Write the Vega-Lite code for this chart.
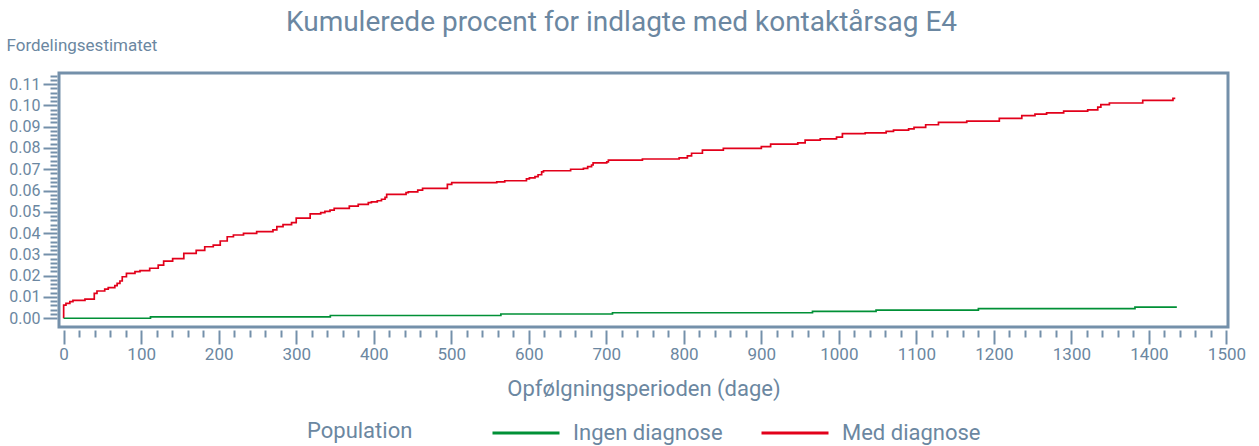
{
  "$schema": "https://vega.github.io/schema/vega-lite/v6.json",
  "autosize": "none",
  "width": 1169,
  "height": 254,
  "padding": {"left": 59, "top": 73, "right": 31, "bottom": 119},
  "background": "white",
  "config": {
    "font": "Roboto, sans-serif",
    "view": {"stroke": "#7490aa", "strokeWidth": 3},
    "axis": {"domain": false, "grid": false, "tickColor": "#7490aa", "tickWidth": 2, "labelColor": "#6b87a1", "titleColor": "#6b87a1", "titleFontWeight": "normal", "labelOverlap": false}
  },
  "title": {
    "text": "Kumulerede procent for indlagte med kontaktårsag E4",
    "fontSize": 28,
    "fontWeight": "normal",
    "color": "#6b87a1",
    "anchor": "middle",
    "frame": "group",
    "dx": -22,
    "dy": 11,
    "offset": 10
  },
  "data": {
    "values": [
      {"grp": "Med diagnose", "day": 0, "v": 0},
      {"grp": "Med diagnose", "day": 0, "v": 0.0062},
      {"grp": "Med diagnose", "day": 3, "v": 0.0070},
      {"grp": "Med diagnose", "day": 8, "v": 0.0078},
      {"grp": "Med diagnose", "day": 12, "v": 0.0084},
      {"grp": "Med diagnose", "day": 27.5, "v": 0.0090},
      {"grp": "Med diagnose", "day": 39.5, "v": 0.0117},
      {"grp": "Med diagnose", "day": 43, "v": 0.0128},
      {"grp": "Med diagnose", "day": 53, "v": 0.0137},
      {"grp": "Med diagnose", "day": 57.5, "v": 0.0144},
      {"grp": "Med diagnose", "day": 66, "v": 0.0153},
      {"grp": "Med diagnose", "day": 69, "v": 0.0164},
      {"grp": "Med diagnose", "day": 72.6, "v": 0.0175},
      {"grp": "Med diagnose", "day": 75.6, "v": 0.0195},
      {"grp": "Med diagnose", "day": 81, "v": 0.0211},
      {"grp": "Med diagnose", "day": 92, "v": 0.0219},
      {"grp": "Med diagnose", "day": 98.5, "v": 0.0224},
      {"grp": "Med diagnose", "day": 111, "v": 0.0235},
      {"grp": "Med diagnose", "day": 122, "v": 0.0250},
      {"grp": "Med diagnose", "day": 129, "v": 0.0268},
      {"grp": "Med diagnose", "day": 140.6, "v": 0.0280},
      {"grp": "Med diagnose", "day": 155, "v": 0.0305},
      {"grp": "Med diagnose", "day": 171, "v": 0.0319},
      {"grp": "Med diagnose", "day": 182, "v": 0.0336},
      {"grp": "Med diagnose", "day": 193, "v": 0.0344},
      {"grp": "Med diagnose", "day": 202, "v": 0.0363},
      {"grp": "Med diagnose", "day": 211, "v": 0.0383},
      {"grp": "Med diagnose", "day": 219, "v": 0.0391},
      {"grp": "Med diagnose", "day": 232, "v": 0.0399},
      {"grp": "Med diagnose", "day": 249, "v": 0.0407},
      {"grp": "Med diagnose", "day": 270, "v": 0.0415},
      {"grp": "Med diagnose", "day": 275, "v": 0.0430},
      {"grp": "Med diagnose", "day": 283, "v": 0.0440},
      {"grp": "Med diagnose", "day": 294, "v": 0.0449},
      {"grp": "Med diagnose", "day": 300, "v": 0.0470},
      {"grp": "Med diagnose", "day": 318, "v": 0.0490},
      {"grp": "Med diagnose", "day": 331.6, "v": 0.0496},
      {"grp": "Med diagnose", "day": 337, "v": 0.0502},
      {"grp": "Med diagnose", "day": 343.6, "v": 0.0508},
      {"grp": "Med diagnose", "day": 349, "v": 0.0516},
      {"grp": "Med diagnose", "day": 368.5, "v": 0.0527},
      {"grp": "Med diagnose", "day": 380, "v": 0.0535},
      {"grp": "Med diagnose", "day": 393, "v": 0.0543},
      {"grp": "Med diagnose", "day": 397, "v": 0.0547},
      {"grp": "Med diagnose", "day": 404.6, "v": 0.0552},
      {"grp": "Med diagnose", "day": 410, "v": 0.0559},
      {"grp": "Med diagnose", "day": 414.6, "v": 0.0568},
      {"grp": "Med diagnose", "day": 416.7, "v": 0.0582},
      {"grp": "Med diagnose", "day": 441.7, "v": 0.0590},
      {"grp": "Med diagnose", "day": 444.6, "v": 0.0594},
      {"grp": "Med diagnose", "day": 456.8, "v": 0.0602},
      {"grp": "Med diagnose", "day": 463, "v": 0.0610},
      {"grp": "Med diagnose", "day": 495, "v": 0.0629},
      {"grp": "Med diagnose", "day": 500.6, "v": 0.0637},
      {"grp": "Med diagnose", "day": 558.7, "v": 0.0641},
      {"grp": "Med diagnose", "day": 569, "v": 0.0646},
      {"grp": "Med diagnose", "day": 597, "v": 0.0655},
      {"grp": "Med diagnose", "day": 600.8, "v": 0.0659},
      {"grp": "Med diagnose", "day": 608, "v": 0.0665},
      {"grp": "Med diagnose", "day": 612, "v": 0.0674},
      {"grp": "Med diagnose", "day": 616.6, "v": 0.0688},
      {"grp": "Med diagnose", "day": 619, "v": 0.0693},
      {"grp": "Med diagnose", "day": 654, "v": 0.0700},
      {"grp": "Med diagnose", "day": 670.5, "v": 0.0704},
      {"grp": "Med diagnose", "day": 676, "v": 0.0712},
      {"grp": "Med diagnose", "day": 681, "v": 0.0720},
      {"grp": "Med diagnose", "day": 683, "v": 0.0730},
      {"grp": "Med diagnose", "day": 700.6, "v": 0.0735},
      {"grp": "Med diagnose", "day": 702.7, "v": 0.0743},
      {"grp": "Med diagnose", "day": 746.6, "v": 0.0748},
      {"grp": "Med diagnose", "day": 794, "v": 0.0753},
      {"grp": "Med diagnose", "day": 804.6, "v": 0.0763},
      {"grp": "Med diagnose", "day": 810, "v": 0.0775},
      {"grp": "Med diagnose", "day": 824, "v": 0.0790},
      {"grp": "Med diagnose", "day": 851, "v": 0.0798},
      {"grp": "Med diagnose", "day": 900, "v": 0.0806},
      {"grp": "Med diagnose", "day": 912, "v": 0.0818},
      {"grp": "Med diagnose", "day": 947, "v": 0.0824},
      {"grp": "Med diagnose", "day": 956.5, "v": 0.0837},
      {"grp": "Med diagnose", "day": 976, "v": 0.0843},
      {"grp": "Med diagnose", "day": 997, "v": 0.0851},
      {"grp": "Med diagnose", "day": 1004.6, "v": 0.0867},
      {"grp": "Med diagnose", "day": 1034, "v": 0.0871},
      {"grp": "Med diagnose", "day": 1061, "v": 0.0878},
      {"grp": "Med diagnose", "day": 1070.5, "v": 0.0884},
      {"grp": "Med diagnose", "day": 1090, "v": 0.0890},
      {"grp": "Med diagnose", "day": 1097, "v": 0.0897},
      {"grp": "Med diagnose", "day": 1112, "v": 0.0909},
      {"grp": "Med diagnose", "day": 1128.5, "v": 0.0920},
      {"grp": "Med diagnose", "day": 1165, "v": 0.0926},
      {"grp": "Med diagnose", "day": 1207, "v": 0.0939},
      {"grp": "Med diagnose", "day": 1236, "v": 0.0952},
      {"grp": "Med diagnose", "day": 1253, "v": 0.0959},
      {"grp": "Med diagnose", "day": 1268, "v": 0.0965},
      {"grp": "Med diagnose", "day": 1290, "v": 0.0973},
      {"grp": "Med diagnose", "day": 1321, "v": 0.0979},
      {"grp": "Med diagnose", "day": 1334, "v": 0.0992},
      {"grp": "Med diagnose", "day": 1338, "v": 0.1003},
      {"grp": "Med diagnose", "day": 1349, "v": 0.1011},
      {"grp": "Med diagnose", "day": 1392, "v": 0.1023},
      {"grp": "Med diagnose", "day": 1431, "v": 0.1033},
      {"grp": "Med diagnose", "day": 1434, "v": 0.1033},
      {"grp": "Ingen diagnose", "day": 0, "v": 0},
      {"grp": "Ingen diagnose", "day": 112, "v": 0.0007},
      {"grp": "Ingen diagnose", "day": 344, "v": 0.0013},
      {"grp": "Ingen diagnose", "day": 564, "v": 0.0020},
      {"grp": "Ingen diagnose", "day": 708, "v": 0.0026},
      {"grp": "Ingen diagnose", "day": 966, "v": 0.0032},
      {"grp": "Ingen diagnose", "day": 1048, "v": 0.0038},
      {"grp": "Ingen diagnose", "day": 1180, "v": 0.0045},
      {"grp": "Ingen diagnose", "day": 1382, "v": 0.0052},
      {"grp": "Ingen diagnose", "day": 1436, "v": 0.0052}
    ]
  },
  "mark": {"type": "line", "interpolate": "step-after", "strokeWidth": 1.7, "clip": true},
  "encoding": {
    "x": {
      "field": "day",
      "type": "quantitative",
      "scale": {"domain": [-6, 1502], "nice": false, "zero": false},
      "axis": {
        "title": "Opfølgningsperioden (dage)",
        "titleFontSize": 22,
        "titleBaseline": "middle",
        "titleY": 58,
        "offset": 3,
        "format": "d",
        "values": [0,20,40,60,80,100,120,140,160,180,200,220,240,260,280,300,320,340,360,380,400,420,440,460,480,500,520,540,560,580,600,620,640,660,680,700,720,740,760,780,800,820,840,860,880,900,920,940,960,980,1000,1020,1040,1060,1080,1100,1120,1140,1160,1180,1200,1220,1240,1260,1280,1300,1320,1340,1360,1380,1400,1420,1440,1460,1480,1500],
        "labelExpr": "datum.value % 100 === 0 ? datum.label : ''",
        "tickSize": {"condition": {"test": "datum.value % 100 === 0", "value": 14}, "value": 7},
        "labelFontSize": 17,
        "labelPadding": 2
      }
    },
    "y": {
      "field": "v",
      "type": "quantitative",
      "scale": {"domain": [-0.0041, 0.1152], "nice": false, "zero": false},
      "axis": {
        "title": "Fordelingsestimatet",
        "titleAngle": 0,
        "titleAlign": "left",
        "titleBaseline": "middle",
        "titleX": -51,
        "titleY": -28,
        "titleFontSize": 17,
        "offset": 2,
        "values": [0,0.002,0.004,0.006,0.008,0.01,0.012,0.014,0.016,0.018,0.02,0.022,0.024,0.026,0.028,0.03,0.032,0.034,0.036,0.038,0.04,0.042,0.044,0.046,0.048,0.05,0.052,0.054,0.056,0.058,0.06,0.062,0.064,0.066,0.068,0.07,0.072,0.074,0.076,0.078,0.08,0.082,0.084,0.086,0.088,0.09,0.092,0.094,0.096,0.098,0.1,0.102,0.104,0.106,0.108,0.11,0.112,0.114],
        "labelExpr": "abs(datum.value*100 - round(datum.value*100)) < 1e-6 ? format(datum.value, '.2f') : ''",
        "tickSize": {"condition": {"test": "abs(datum.value*100 - round(datum.value*100)) < 1e-6", "value": 14}, "value": 7},
        "labelFontSize": 16,
        "labelPadding": 3
      }
    },
    "color": {
      "field": "grp",
      "type": "nominal",
      "scale": {"domain": ["Ingen diagnose", "Med diagnose"], "range": ["#009036", "#e2001a"]},
      "legend": {
        "title": "Population",
        "orient": "none",
        "legendX": 248,
        "legendY": 325,
        "direction": "horizontal",
        "titleOrient": "left",
        "titleAnchor": "middle",
        "titleBaseline": "top",
        "titleFontSize": 22,
        "titleFontWeight": "normal",
        "titleColor": "#6b87a1",
        "titlePadding": 78,
        "labelFontSize": 22,
        "labelColor": "#6b87a1",
        "labelOffset": 12,
        "columnPadding": 32,
        "symbolType": "stroke",
        "symbolSize": 4489,
        "symbolStrokeWidth": 3,
        "padding": 0
      }
    }
  }
}
